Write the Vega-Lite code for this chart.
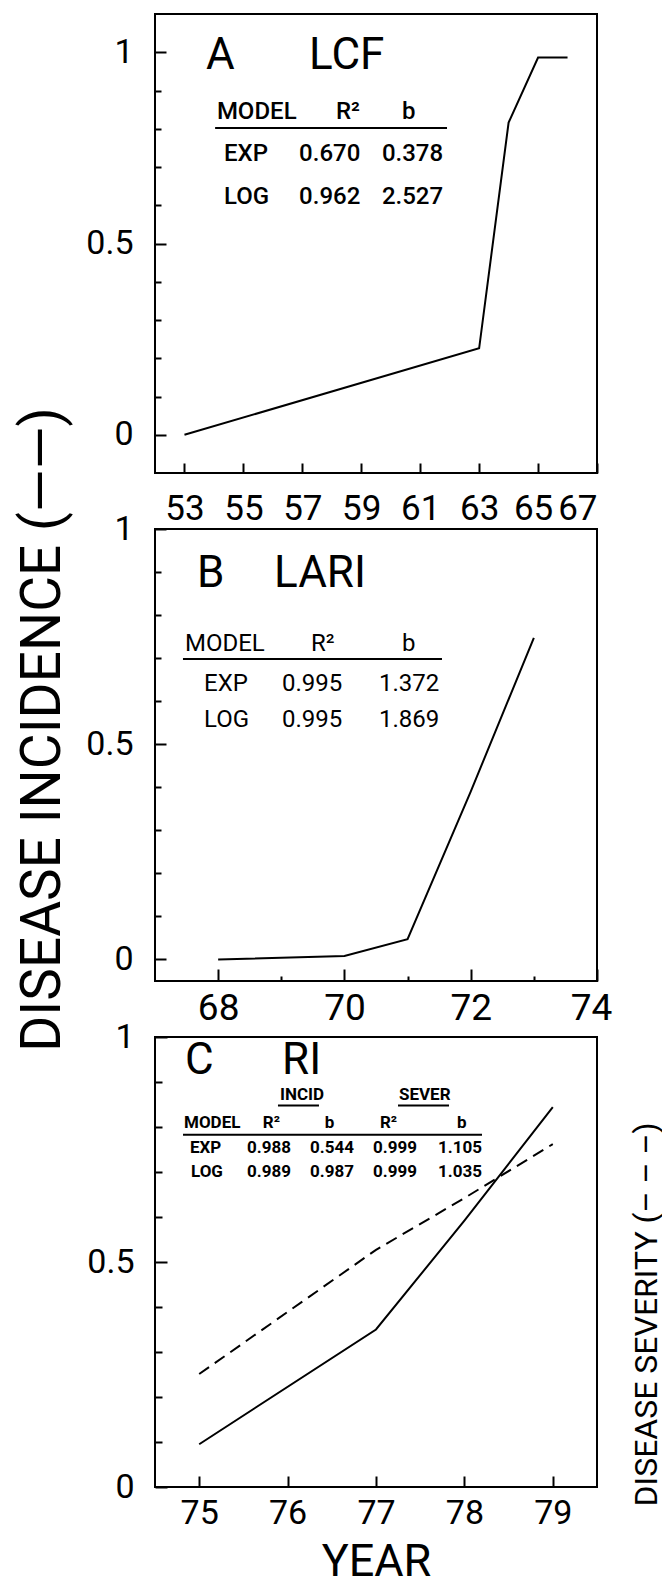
{
  "$schema": "https://vega.github.io/schema/vega-lite/v6.json",
  "padding": {"left": 13, "top": 13, "right": 0, "bottom": 0},
  "background": "white",
  "bounds": "flush",
  "spacing": 56,
  "config": {
    "font": "Roboto",
    "view": {"stroke": "black", "strokeWidth": 2},
    "axis": {"domain": false, "grid": false, "ticks": true, "tickColor": "black", "tickWidth": 2, "labelColor": "black", "labelFont": "Roboto", "titleFont": "Roboto", "titleColor": "black", "titleFontWeight": "normal", "labelOverlap": false, "labelBound": false, "format": "d"},
    "text": {"font": "Roboto", "color": "black"},
    "line": {"color": "black", "strokeWidth": 2},
    "rule": {"color": "black", "strokeWidth": 2}
  },
  "vconcat": [
    {
      "width": 442,
      "height": 459,
      "layer": [
        {
          "data": {"values": [
            {"year": 53, "inc": 0},
            {"year": 63, "inc": 0.226},
            {"year": 64, "inc": 0.816},
            {"year": 65, "inc": 0.986},
            {"year": 66, "inc": 0.986}
          ]},
          "mark": {"type": "line"},
          "encoding": {
            "x": {"field": "year", "type": "quantitative", "title": null,
              "scale": {"domain": [52, 67], "nice": false, "zero": false},
              "axis": {"values": [53, 54, 55, 56, 57, 58, 59, 60, 61, 62, 63, 64, 65, 66, 67],
                "labelExpr": "datum.value % 2 == 1 ? datum.label : ''",
                "tickSize": -10, "labelPadding": 28, "labelFontSize": 35, "labelFlush": true,
                "labelOffset": {"condition": {"test": "datum.value == 65", "value": -5}, "value": 0}}},
            "y": {"field": "inc", "type": "quantitative", "title": null,
              "scale": {"domain": [-0.1, 1.1], "nice": false, "zero": false},
              "axis": {"values": [0, 0.1, 0.2, 0.3, 0.4, 0.5, 0.6, 0.7, 0.8, 0.9, 1],
                "labelExpr": "datum.value == 0 ? '0' : datum.value == 0.5 ? '0.5' : datum.value == 1 ? '1' : ''",
                "tickSize": {"condition": {"test": "datum.value == 0 || datum.value == 0.5 || datum.value == 1", "value": -11}, "value": -6},
                "labelPadding": 33, "labelFontSize": 34}}
          }
        },
        {
          "data": {"values": [
            {"t": "A", "x": 53.73, "y": 0.956},
            {"t": "LCF", "x": 57.23, "y": 0.956}
          ]},
          "mark": {"type": "text", "align": "left", "baseline": "alphabetic", "fontSize": 44},
          "encoding": {
            "x": {"field": "x", "type": "quantitative", "title": null},
            "y": {"field": "y", "type": "quantitative", "title": null},
            "text": {"field": "t"}
          }
        },
        {
          "data": {"values": [
            {"t": "MODEL", "x": 54.1, "y": 0.825},
            {"t": "R²", "x": 58.14, "y": 0.825},
            {"t": "b", "x": 60.38, "y": 0.825},
            {"t": "EXP", "x": 54.34, "y": 0.716},
            {"t": "0.670", "x": 56.89, "y": 0.716},
            {"t": "0.378", "x": 59.7, "y": 0.716},
            {"t": "LOG", "x": 54.34, "y": 0.603},
            {"t": "0.962", "x": 56.89, "y": 0.603},
            {"t": "2.527", "x": 59.7, "y": 0.603}
          ]},
          "mark": {"type": "text", "align": "left", "baseline": "alphabetic", "fontSize": 24, "fontWeight": 500},
          "encoding": {
            "x": {"field": "x", "type": "quantitative", "title": null},
            "y": {"field": "y", "type": "quantitative", "title": null},
            "text": {"field": "t"}
          }
        },
        {
          "data": {"values": [{"x1": 54.04, "x2": 61.91, "y": 0.802}]},
          "mark": {"type": "rule"},
          "encoding": {
            "x": {"field": "x1", "type": "quantitative", "title": null},
            "x2": {"field": "x2"},
            "y": {"field": "y", "type": "quantitative", "title": null}
          }
        }
      ]
    },
    {
      "width": 442,
      "height": 452,
      "layer": [
        {
          "data": {"values": [
            {"year": 68, "inc": 0},
            {"year": 70, "inc": 0.008},
            {"year": 71, "inc": 0.047},
            {"year": 72, "inc": 0.39},
            {"year": 73, "inc": 0.747}
          ]},
          "mark": {"type": "line"},
          "encoding": {
            "x": {"field": "year", "type": "quantitative", "title": null,
              "scale": {"domain": [67, 74], "nice": false, "zero": false},
              "axis": {"values": [68, 69, 70, 71, 72, 73, 74],
                "labelExpr": "datum.value % 2 == 0 ? datum.label : ''",
                "tickSize": {"condition": {"test": "datum.value % 2 == 0", "value": -12}, "value": -5},
                "labelPadding": 21, "labelFontSize": 37, "labelFlush": false,
                "labelOffset": {"condition": {"test": "datum.value == 74", "value": -6}, "value": 0}}},
            "y": {"field": "inc", "type": "quantitative",
              "scale": {"domain": [-0.05, 1], "nice": false, "zero": false},
              "axis": {"values": [0, 0.1, 0.2, 0.3, 0.4, 0.5, 0.6, 0.7, 0.8, 0.9, 1],
                "labelExpr": "datum.value == 0 ? '0' : datum.value == 0.5 ? '0.5' : datum.value == 1 ? '1' : ''",
                "tickSize": {"condition": {"test": "datum.value == 0 || datum.value == 0.5 || datum.value == 1", "value": -11}, "value": -6},
                "labelPadding": 33, "labelFontSize": 34,
                "title": "DISEASE INCIDENCE (——)",
                "titleFontSize": 55, "titleAngle": 270, "titleAlign": "center", "titleBaseline": "alphabetic",
                "titleX": -96, "titleY": 200}}
          }
        },
        {
          "data": {"values": [
            {"t": "B", "x": 67.665, "y": 0.865},
            {"t": "LARI", "x": 68.885, "y": 0.865}
          ]},
          "mark": {"type": "text", "align": "left", "baseline": "alphabetic", "fontSize": 44},
          "encoding": {
            "x": {"field": "x", "type": "quantitative"},
            "y": {"field": "y", "type": "quantitative"},
            "text": {"field": "t"}
          }
        },
        {
          "data": {"values": [
            {"t": "MODEL", "x": 67.475, "y": 0.717},
            {"t": "R²", "x": 69.47, "y": 0.717},
            {"t": "b", "x": 70.91, "y": 0.717},
            {"t": "EXP", "x": 67.776, "y": 0.624},
            {"t": "0.995", "x": 69.011, "y": 0.624},
            {"t": "1.372", "x": 70.548, "y": 0.624},
            {"t": "LOG", "x": 67.776, "y": 0.54},
            {"t": "0.995", "x": 69.011, "y": 0.54},
            {"t": "1.869", "x": 70.548, "y": 0.54}
          ]},
          "mark": {"type": "text", "align": "left", "baseline": "alphabetic", "fontSize": 24},
          "encoding": {
            "x": {"field": "x", "type": "quantitative"},
            "y": {"field": "y", "type": "quantitative"},
            "text": {"field": "t"}
          }
        },
        {
          "data": {"values": [{"x1": 67.443, "x2": 71.545, "y": 0.698}]},
          "mark": {"type": "rule"},
          "encoding": {
            "x": {"field": "x1", "type": "quantitative"},
            "x2": {"field": "x2"},
            "y": {"field": "y", "type": "quantitative"}
          }
        }
      ]
    },
    {
      "width": 442,
      "height": 450,
      "resolve": {"axis": {"y": "independent"}},
      "layer": [
        {
          "data": {"values": [
            {"year": 75, "inc": 0.095},
            {"year": 77, "inc": 0.35},
            {"year": 78, "inc": 0.592},
            {"year": 79, "inc": 0.844}
          ]},
          "mark": {"type": "line"},
          "encoding": {
            "x": {"field": "year", "type": "quantitative",
              "scale": {"domain": [74.5, 79.5], "nice": false, "zero": false},
              "axis": {"values": [75, 76, 77, 78, 79],
                "tickSize": -11, "labelPadding": 20, "labelFontSize": 34,
                "title": "YEAR", "titleFontSize": 45, "titleBaseline": "alphabetic", "titleY": 88}},
            "y": {"field": "inc", "type": "quantitative", "title": null,
              "scale": {"domain": [0, 1], "nice": false, "zero": false},
              "axis": {"values": [0, 0.1, 0.2, 0.3, 0.4, 0.5, 0.6, 0.7, 0.8, 0.9, 1],
                "labelExpr": "datum.value == 0 ? '0' : datum.value == 0.5 ? '0.5' : datum.value == 1 ? '1' : ''",
                "tickSize": {"condition": {"test": "datum.value == 0 || datum.value == 0.5 || datum.value == 1", "value": -12}, "value": -7},
                "labelPadding": 33, "labelFontSize": 34}}
          }
        },
        {
          "data": {"values": [
            {"year": 75, "sev": 0.251},
            {"year": 77, "sev": 0.527},
            {"year": 78, "sev": 0.642},
            {"year": 79, "sev": 0.762}
          ]},
          "mark": {"type": "line", "strokeDash": [12, 7]},
          "encoding": {
            "x": {"field": "year", "type": "quantitative"},
            "y": {"field": "sev", "type": "quantitative",
              "axis": {"orient": "right", "ticks": false, "labels": false, "domain": false,
                "title": "DISEASE SEVERITY (– – –)", "titleFontSize": 32, "titleAngle": 270,
                "titleAlign": "center", "titleBaseline": "alphabetic", "titleX": 59, "titleY": 277}}
          }
        },
        {
          "data": {"values": [
            {"t": "C", "x": 74.84, "y": 0.918},
            {"t": "RI", "x": 75.937, "y": 0.918}
          ]},
          "mark": {"type": "text", "align": "left", "baseline": "alphabetic", "fontSize": 44},
          "encoding": {
            "x": {"field": "x", "type": "quantitative"},
            "y": {"field": "y", "type": "quantitative", "axis": null},
            "text": {"field": "t"}
          }
        },
        {
          "data": {"values": [
            {"t": "INCID", "x": 75.914, "y": 0.861},
            {"t": "SEVER", "x": 77.26, "y": 0.861},
            {"t": "MODEL", "x": 74.828, "y": 0.797},
            {"t": "R²", "x": 75.72, "y": 0.797},
            {"t": "b", "x": 76.42, "y": 0.797},
            {"t": "R²", "x": 77.045, "y": 0.797},
            {"t": "b", "x": 77.916, "y": 0.797},
            {"t": "EXP", "x": 74.896, "y": 0.743},
            {"t": "0.988", "x": 75.541, "y": 0.743},
            {"t": "0.544", "x": 76.253, "y": 0.743},
            {"t": "0.999", "x": 76.966, "y": 0.743},
            {"t": "1.105", "x": 77.701, "y": 0.743},
            {"t": "LOG", "x": 74.907, "y": 0.688},
            {"t": "0.989", "x": 75.541, "y": 0.688},
            {"t": "0.987", "x": 76.253, "y": 0.688},
            {"t": "0.999", "x": 76.966, "y": 0.688},
            {"t": "1.035", "x": 77.701, "y": 0.688}
          ]},
          "mark": {"type": "text", "align": "left", "baseline": "alphabetic", "fontSize": 17, "fontWeight": "bold"},
          "encoding": {
            "x": {"field": "x", "type": "quantitative"},
            "y": {"field": "y", "type": "quantitative", "axis": null},
            "text": {"field": "t"}
          }
        },
        {
          "data": {"values": [
            {"x1": 74.817, "x2": 78.199, "y": 0.783},
            {"x1": 75.891, "x2": 76.355, "y": 0.848},
            {"x1": 77.249, "x2": 77.826, "y": 0.848}
          ]},
          "mark": {"type": "rule"},
          "encoding": {
            "x": {"field": "x1", "type": "quantitative"},
            "x2": {"field": "x2"},
            "y": {"field": "y", "type": "quantitative", "axis": null}
          }
        }
      ]
    }
  ]
}
